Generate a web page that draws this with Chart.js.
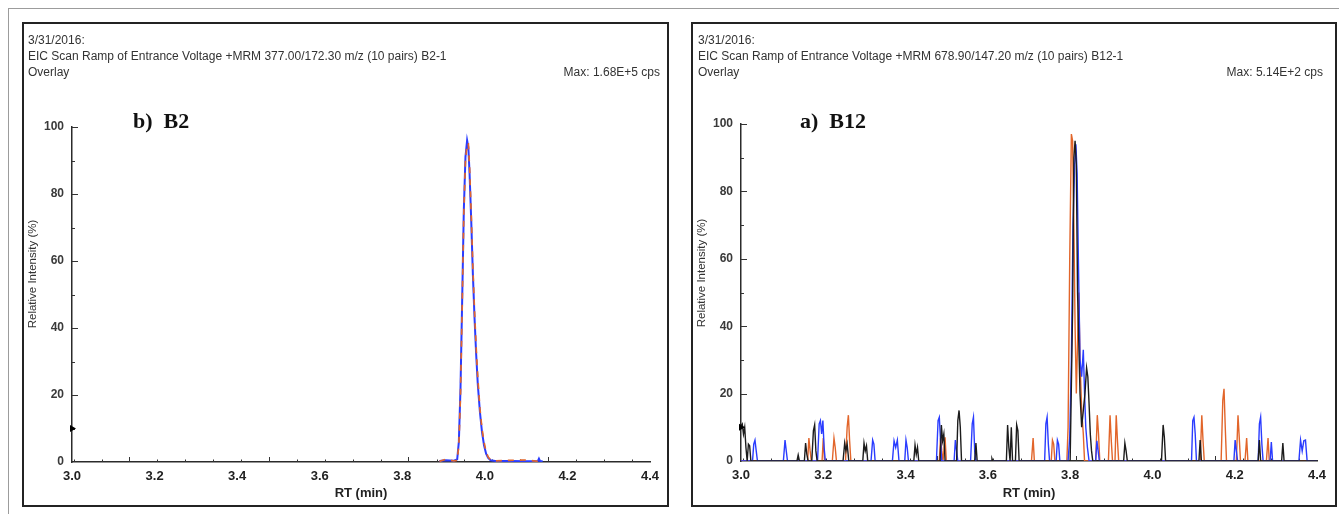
<!DOCTYPE html>
<html>
<head>
<meta charset="utf-8">
<title>EIC overlay – B2 / B12</title>
<script src="https://cdn.jsdelivr.net/npm/chart.js@4.4.1/dist/chart.umd.min.js"></script>
<style>
  html, body { margin: 0; padding: 0; background: #fff; }
  body { position: relative; width: 1339px; height: 514px; overflow: hidden;
         font-family: "Liberation Sans", Arial, sans-serif; }
  .frame { position: absolute; left: 8px; top: 8px; width: 1331px; height: 506px;
           border-top: 1px solid #9c9c9c; border-left: 1px solid #9c9c9c; }
  .panel { position: absolute; top: 22px; height: 481px; border: 2px solid #232323; background: #fff; }
  #p1 { left: 22px; width: 643px; }
  #p2 { left: 691px; width: 642px; }
  .hdr { position: absolute; font-size: 12px; line-height: 16px; color: #333; white-space: pre; }
  .tag { position: absolute; font-family: "Liberation Serif", "Times New Roman", serif;
         font-weight: bold; font-size: 22px; line-height: 25px; color: #111; white-space: pre; }
  canvas { position: absolute; left: 0; top: 0; }
</style>
</head>
<body>
<div class="frame"></div>

<div class="panel" id="p1">
  <canvas id="c1" width="643" height="481"></canvas>
  <div class="hdr" style="left:4px; top:8px;">3/31/2016:
EIC Scan Ramp of Entrance Voltage +MRM 377.00/172.30 m/z (10 pairs) B2-1
Overlay</div>
  <div class="hdr" style="right:7px; top:40px;">Max: 1.68E+5 cps</div>
  <div class="tag" style="left:109px; top:84px;">b)  B2</div>
</div>

<div class="panel" id="p2">
  <canvas id="c2" width="642" height="481"></canvas>
  <div class="hdr" style="left:5px; top:8px;">3/31/2016:
EIC Scan Ramp of Entrance Voltage +MRM 678.90/147.20 m/z (10 pairs) B12-1
Overlay</div>
  <div class="hdr" style="right:12px; top:40px;">Max: 5.14E+2 cps</div>
  <div class="tag" style="left:107px; top:84px;">a)  B12</div>
</div>

<script>
// ---- axes ----
const rtTicks = [3.0, 3.2, 3.4, 3.6, 3.8, 4.0, 4.2, 4.4];
const intensityTicks = [0, 20, 40, 60, 80, 100];
const intensityTickMarks = [10, 20, 30, 40, 50, 60, 70, 80, 90, 100];
const rtTickMarks = [3.004, 3.072, 3.139, 3.207, 3.274, 3.342, 3.410, 3.477, 3.545, 3.612,
                     3.680, 3.748, 3.815, 3.883, 3.950, 4.018, 4.086, 4.153, 4.221, 4.288, 4.356];
const rtMajorMarks = [3.139, 3.477, 3.815, 4.153];
const thresholdMark = [{ x: 3.0, y: 10 }];

// ---- B2 (377.00/172.30) ----
const b2Time = [3.890, 3.905, 3.925, 3.933, 3.937, 3.941, 3.945, 3.949, 3.953, 3.957,
                3.960, 3.963, 3.967, 3.971, 3.975, 3.979, 3.983, 3.988, 3.993, 3.998,
                4.003, 4.008, 4.014, 4.025, 4.060, 4.100, 4.128, 4.131, 4.134, 4.140];
const b2Blue = [0.3, 0.5, 0.4, 0.8, 6, 22, 48, 75, 91, 96,
                94, 86, 72, 56, 43, 32, 23, 15, 9, 5,
                2.5, 1.2, 0.5, 0.3, 0.3, 0.2, 0.2, 1.0, 0.2, 0.2];
const b2Orange = [0.2, 0.8, 0.3, 0.5, 5, 20, 46, 74, 90, 95,
                  95, 88, 74, 58, 45, 34, 25, 16, 10, 6,
                  3, 1.5, 0.6, 0.3, 0.5, 0.6, 0.2, 0.2, 0.2, 0.2];

// ---- B12 (678.90/147.20) ----
const b12BlackTime = [3.000, 3.003, 3.006, 3.009, 3.012, 3.015, 3.018, 3.021, 3.024,
  3.136, 3.139, 3.142, 3.154, 3.157, 3.160, 3.163, 3.172, 3.176, 3.179, 3.182, 3.185,
  3.248, 3.252, 3.255, 3.258, 3.262, 3.296, 3.299, 3.302, 3.305, 3.308,
  3.420, 3.423, 3.426, 3.429, 3.432, 3.484, 3.487, 3.490, 3.493, 3.496,
  3.524, 3.527, 3.530, 3.533, 3.536, 3.568, 3.571, 3.574, 3.608, 3.610, 3.612,
  3.645, 3.648, 3.651, 3.654, 3.657, 3.660, 3.667, 3.670, 3.673, 3.676,
  3.800, 3.806, 3.809, 3.812, 3.815, 3.818, 3.821, 3.824, 3.828, 3.832, 3.836, 3.840,
  3.843, 3.846, 3.849, 3.852, 3.855,
  3.930, 3.933, 3.936, 3.939, 4.022, 4.026, 4.029, 4.032, 4.113, 4.116, 4.119,
  4.257, 4.260, 4.263, 4.314, 4.317, 4.320, 4.400];
const b12BlackInt = [10.5, 11, 8, 10, 4, 0, 5, 4.5, 0,
  0, 1.8, 0, 0, 5.3, 2, 0, 0, 9, 10.7, 3, 0,
  0, 5.3, 3, 5, 0, 0, 5.3, 3, 4.5, 0,
  0, 4.7, 2, 4, 0, 0, 10.7, 6, 8, 0,
  0, 12, 15, 10, 0, 0, 5.3, 0, 0, 0.7, 0,
  0, 10.7, 4, 0, 10, 0, 0, 10.7, 9, 0,
  0, 45, 90, 95, 88, 50, 35, 20, 10, 15, 20, 27.6,
  25, 17, 8, 3, 0,
  0, 5.3, 3, 0, 0, 10.7, 7, 0, 0, 6.2, 0,
  0, 6.2, 0, 0, 5.3, 0, 0];

const b12BlueTime = [3.000, 3.028, 3.031, 3.034, 3.037, 3.040,
  3.103, 3.107, 3.110, 3.113, 3.186, 3.190, 3.193, 3.196, 3.199, 3.202, 3.205,
  3.316, 3.320, 3.323, 3.326, 3.368, 3.372, 3.376, 3.380, 3.384,
  3.398, 3.401, 3.404, 3.407, 3.475, 3.479, 3.482, 3.485, 3.488,
  3.518, 3.521, 3.524, 3.527, 3.558, 3.562, 3.565, 3.568, 3.571,
  3.738, 3.741, 3.744, 3.747, 3.750, 3.766, 3.769, 3.772, 3.775,
  3.795, 3.799, 3.803, 3.807, 3.811, 3.814, 3.817, 3.820, 3.824, 3.828, 3.832, 3.835,
  3.838, 3.842, 3.846, 3.862, 3.865, 3.868, 3.871,
  4.095, 4.098, 4.101, 4.104, 4.107, 4.198, 4.201, 4.204, 4.207,
  4.257, 4.260, 4.263, 4.266, 4.269, 4.286, 4.289, 4.292,
  4.356, 4.360, 4.364, 4.368, 4.372, 4.376, 4.400];
const b12BlueInt = [0, 0, 5, 6.2, 3, 0,
  0, 6.2, 3, 0, 0, 11, 12, 8, 12, 4, 0,
  0, 6.2, 5, 0, 0, 6, 4, 6.2, 0,
  0, 6.2, 4, 0, 0, 12, 13, 6, 0,
  0, 6.2, 3, 0, 0, 11, 13, 3, 0,
  0, 11, 13, 5, 0, 0, 6.2, 5, 0,
  0, 7, 30, 70, 88, 94, 85, 60, 30, 25, 33, 20,
  10, 4, 0, 0, 6, 3, 0,
  0, 12, 13, 8, 0, 0, 6.2, 3, 0,
  0, 11, 13, 5, 0, 0, 5.6, 0,
  0, 6.2, 3, 6, 6.2, 0, 0];

const b12OrangeTime = [3.000, 3.162, 3.165, 3.168, 3.171, 3.197, 3.200, 3.203,
  3.222, 3.226, 3.229, 3.232, 3.254, 3.258, 3.261, 3.264, 3.267,
  3.482, 3.485, 3.488, 3.491, 3.493, 3.496, 3.499,
  3.706, 3.710, 3.713, 3.754, 3.757, 3.760, 3.763,
  3.792, 3.795, 3.799, 3.803, 3.806, 3.809, 3.812, 3.815, 3.818, 3.821, 3.824, 3.828,
  3.832, 3.835, 3.862, 3.866, 3.869, 3.872,
  3.893, 3.897, 3.900, 3.903, 3.909, 3.912, 3.915, 3.918,
  4.116, 4.120, 4.123, 4.126, 4.167, 4.171, 4.174, 4.177, 4.180,
  4.204, 4.208, 4.211, 4.214, 4.225, 4.229, 4.232, 4.277, 4.281, 4.284, 4.400];
const b12OrangeInt = [0, 0, 6.8, 3, 0, 0, 6.8, 0,
  0, 6.8, 4, 0, 0, 10, 13.6, 6, 0,
  0, 6.8, 3, 0, 0, 7, 0,
  0, 6.8, 0, 0, 6.2, 5, 0,
  0, 10, 60, 97, 95, 70, 40, 20, 35, 50, 30, 15,
  8, 0, 0, 13.6, 8, 0,
  0, 13.6, 6, 0, 0, 13.6, 6, 0,
  0, 13.6, 6, 0, 0, 18, 21.4, 10, 0,
  0, 13.6, 7, 0, 0, 6.8, 0, 0, 6.8, 0, 0];

// ---- colours ----
const BLUE = '#2a3cff';
const ORANGE = '#e2652a';
const BLACK = '#1c1c1c';

const FONT = '"Liberation Sans", Arial, sans-serif';
Chart.defaults.font.family = FONT;

const toPoints = (t, v) => t.map((x, i) => ({ x, y: v[i] }));

// inward tick marks and the rotated intensity title
const axisDecor = {
  id: 'axisDecor',
  beforeDatasetsDraw(chart) {
    const { ctx, scales: { x, y } } = chart;
    const ax = x.getPixelForValue(x.min);
    const ay = y.getPixelForValue(0);
    ctx.save();
    ctx.strokeStyle = '#333';
    ctx.lineWidth = 1;
    intensityTickMarks.forEach(v => {
      const py = Math.round(y.getPixelForValue(v)) + 0.5;
      const len = v % 20 === 0 ? 6 : 3;
      ctx.beginPath(); ctx.moveTo(ax, py); ctx.lineTo(ax + len, py); ctx.stroke();
    });
    rtTickMarks.forEach(v => {
      const px = Math.round(x.getPixelForValue(v)) + 0.5;
      const len = rtMajorMarks.includes(v) ? 5 : 2.5;
      ctx.beginPath(); ctx.moveTo(px, ay); ctx.lineTo(px, ay - len); ctx.stroke();
    });
    ctx.restore();
  },
  afterDraw(chart, args, opts) {
    const { ctx } = chart;
    ctx.save();
    ctx.translate(opts.titleX, opts.titleY);
    ctx.rotate(-Math.PI / 2);
    ctx.font = '11.5px ' + FONT;
    ctx.fillStyle = '#333';
    ctx.textAlign = 'center';
    ctx.textBaseline = 'middle';
    ctx.fillText('Relative Intensity (%)', 0, 0);
    ctx.restore();
  }
};

// 'order': higher values are painted first, so the lowest order ends up on top
function line(points, color, width, order, dash) {
  return {
    data: points, borderColor: color, borderWidth: width, borderDash: dash || [],
    pointRadius: 0, tension: 0, fill: false, order
  };
}

function makeChart(id, datasets, layout) {
  datasets.push({
    type: 'scatter', data: thresholdMark, pointStyle: 'triangle', rotation: 90, order: 0,
    pointRadius: 4, backgroundColor: '#000', borderColor: '#000', borderWidth: 0, clip: false
  });
  return new Chart(document.getElementById(id), {
    type: 'line',
    data: { datasets },
    plugins: [axisDecor],
    options: {
      responsive: false, animation: false, devicePixelRatio: 1,
      layout: { padding: { top: layout.top, right: layout.right, left: 0, bottom: 0 } },
      plugins: {
        legend: { display: false }, tooltip: { enabled: false },
        axisDecor: { titleX: 9, titleY: layout.titleY }
      },
      scales: {
        x: {
          type: 'linear', min: 3.0, max: 4.4,
          afterBuildTicks: s => { s.ticks = rtTicks.map(value => ({ value })); },
          afterFit: s => { s.height = layout.xh; },
          ticks: {
            callback: v => Number(v).toFixed(1), maxRotation: 0, autoSkip: false,
            font: { size: 13, weight: 'bold' }, color: '#222', padding: 7
          },
          grid: { drawOnChartArea: false, drawTicks: false },
          border: { display: true, color: '#2b2b2b', width: 1.5 },
          title: {
            display: true, text: 'RT (min)', color: '#222',
            font: { size: 13, weight: 'bold' }, padding: { top: 0, bottom: 4 }
          }
        },
        y: {
          type: 'linear', min: 0, max: 100,
          afterBuildTicks: s => { s.ticks = intensityTicks.map(value => ({ value })); },
          afterFit: s => { s.width = 48; },
          ticks: { font: { size: 12, weight: 'bold' }, color: '#3a3a3a', padding: 8 },
          grid: { drawOnChartArea: false, drawTicks: false },
          border: { display: true, color: '#2b2b2b', width: 1.5 }
        }
      }
    }
  });
}

makeChart('c1', [
  line(toPoints(b2Time, b2Blue), BLUE, 2, 2),
  line(toPoints(b2Time, b2Orange), ORANGE, 1.7, 1, [6, 6])
], { top: 103, right: 17, xh: 43, titleY: 250 });

makeChart('c2', [
  line(toPoints(b12OrangeTime, b12OrangeInt), ORANGE, 1.4, 3),
  line(toPoints(b12BlueTime, b12BlueInt), BLUE, 1.4, 2),
  line(toPoints(b12BlackTime, b12BlackInt), BLACK, 1.4, 1)
], { top: 100, right: 18, xh: 44, titleY: 249 });
</script>
</body>
</html>
